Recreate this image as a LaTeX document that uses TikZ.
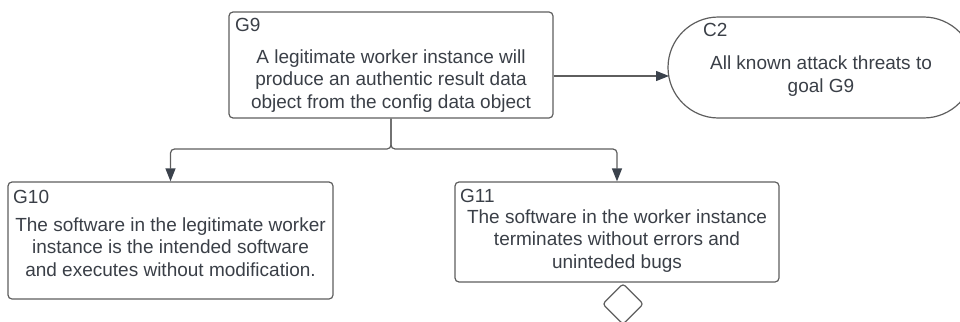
\documentclass[tikz,border=0pt]{standalone}
\usepackage{fontspec}
\setmainfont{Liberation Sans}
\usetikzlibrary{arrows.meta,shapes.misc,shapes.geometric}
\definecolor{edge}{HTML}{5E5E5E}
\definecolor{ink}{HTML}{3A3F47}
\definecolor{tip}{HTML}{3B424C}
\begin{document}
\begin{tikzpicture}[x=1pt,y=-1pt,
  goalbox/.style={draw=edge, line width=1.2pt, rounded corners=4pt, inner sep=0pt},
  ctxbox/.style={draw=edge, line width=1.2pt, rounded rectangle, rounded rectangle arc length=180, inner sep=0pt},
  body/.style={text=ink, align=center, inner sep=0pt, font=\fontsize{19}{22.5}\selectfont},
  tag/.style={text=ink, anchor=base west, inner sep=0pt, font=\fontsize{19}{22.5}\selectfont},
  conn/.style={draw=edge, line width=1.2pt, rounded corners=4pt,
    -{Triangle[length=13pt,width=10pt,fill=tip,color=tip]}},
  decision/.style={draw=edge, line width=1.2pt, diamond, rounded corners=3pt, inner sep=0pt,
    minimum width=41pt, minimum height=41pt}
]
\useasboundingbox (0,0) rectangle (960,321);

% goal and context shapes
\node[goalbox, minimum width=324pt, minimum height=106pt] (g9) at (391,65) {};
\node[ctxbox, minimum width=306pt, minimum height=101pt] (c2) at (821,67.5) {};
\node[goalbox, minimum width=325pt, minimum height=117pt] (g10) at (170.5,240.5) {};
\node[goalbox, minimum width=324pt, minimum height=100pt] (g11) at (617,232) {};
\node[decision] (d1) at (623,304) {};

% identifiers
\node[tag] (g9id) at (235,32) {G9};
\node[tag] (c2id) at (703,37) {C2};
\node[tag] (g10id) at (13,203) {G10};
\node[tag] (g11id) at (460,202) {G11};

% statements
\node[body] (g9txt) at (391,81) {A legitimate worker instance will\\produce an authentic result data\\object from the config data object};
\node[body] (c2txt) at (821,76) {All known attack threats to\\goal G9};
\node[body] (g10txt) at (170.5,247) {The software in the legitimate worker\\instance is the intended software\\and executes without modification.};
\node[body] (g11txt) at (617,241) {The software in the worker instance\\terminates without errors and\\uninteded bugs};

% connectors
\coordinate (split) at (391,149);
\coordinate (ctxy) at (0,76);
\draw[conn] (g9.east |- ctxy) -- (669,76);
\draw[conn] (g9.south) |- (g10.north |- split) -- (g10.north);
\draw[conn] (g9.south) |- (g11.north |- split) -- (g11.north);
\end{tikzpicture}
\end{document}
